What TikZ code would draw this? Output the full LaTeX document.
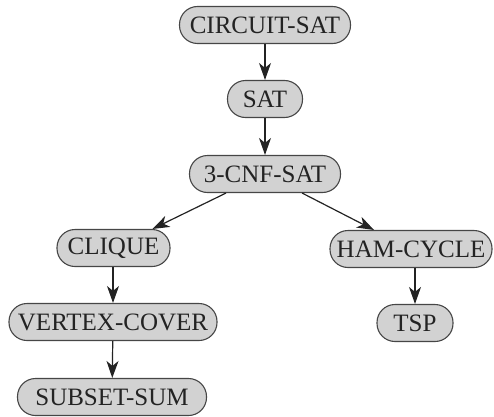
\documentclass[tikz,border=0pt]{standalone}
\usepackage{fontspec}
\setmainfont{Liberation Serif}
\usetikzlibrary{arrows.meta}
\definecolor{boxfill}{RGB}{210,210,210}
\definecolor{boxline}{RGB}{70,70,70}
\definecolor{ink}{RGB}{35,35,35}
\begin{document}
\begin{tikzpicture}[x=1pt,y=1pt,
  prob/.style={draw=boxline, line width=1.1pt, fill=boxfill, text=ink,
    rounded corners=18pt, minimum height=37pt, inner xsep=6pt, inner ysep=0pt,
    font=\fontsize{25}{29}\selectfont},
  reduce/.style={-{Stealth[length=17pt,width=12pt,inset=5pt]}, draw=ink, line width=1.2pt}]
\useasboundingbox (0,0) rectangle (494,416);
\node[prob, minimum width=171pt] (circ) at (265,391) {CIRCUIT-SAT};
\node[prob, minimum width=75pt] (sat) at (265,317) {SAT};
\node[prob, minimum width=151pt] (cnf) at (265,242) {3-CNF-SAT};
\node[prob, minimum width=113pt] (clique) at (113.5,168) {CLIQUE};
\node[prob, minimum width=162pt] (ham) at (411,167) {HAM-CYCLE};
\node[prob, minimum width=208pt] (vc) at (113,94) {VERTEX-COVER};
\node[prob, minimum width=76pt] (tsp) at (415,93) {TSP};
\node[prob, minimum width=189pt] (ss) at (112,19) {SUBSET-SUM};
\draw[reduce] (circ) -- (sat);
\draw[reduce] (sat) -- (cnf);
\draw[reduce] (cnf) -- (clique);
\draw[reduce] (cnf) -- (ham);
\draw[reduce] (clique.south -| vc.north) -- (vc.north);
\draw[reduce] (ham.south -| tsp.north) -- (tsp.north);
\draw[reduce] (vc) -- (ss);
\end{tikzpicture}
\end{document}
